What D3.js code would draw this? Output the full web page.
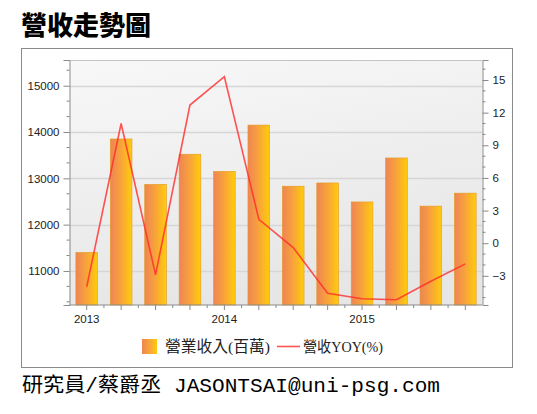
<!DOCTYPE html>
<html><head><meta charset="utf-8">
<script src="https://cdn.jsdelivr.net/npm/d3@7"></script>
<style>
html,body{margin:0;padding:0;background:#fff;}
svg{display:block;}
</style></head>
<body>
<script>
const categories = ["2013Q1","2013Q2","2013Q3","2013Q4","2014Q1","2014Q2","2014Q3","2014Q4","2015Q1","2015Q2","2015Q3","2015Q4"];
const revenue = [11400,13850,12870,13520,13150,14150,12830,12900,12490,13440,12400,12680];
const yoy = [-4.0,11.0,-2.9,12.7,15.3,2.2,-0.4,-4.6,-5.1,-5.2,-3.5,-1.9];
const xLabels = {"2013Q1":"2013","2014Q1":"2014","2015Q1":"2015"};
const leftTicks = [11000,12000,13000,14000,15000];
const rightTicks = [-3,0,3,6,9,12,15];
const title = "營收走勢圖";
const legendBar = "營業收入(百萬)";
const legendLine = "營收YOY(%)";
const footer = "研究員/蔡爵丞 JASONTSAI@uni-psg.com";

const W = 537, H = 414;
const svg = d3.select("body").append("svg").attr("width", W).attr("height", H);
const defs = svg.append("defs");
const bg = defs.append("linearGradient").attr("id","bg").attr("x1","0").attr("y1","0").attr("x2","0.3").attr("y2","1");
bg.append("stop").attr("offset","0").attr("stop-color","#f8f8f8");
bg.append("stop").attr("offset","1").attr("stop-color","#e6e6e6");
const bar = defs.append("linearGradient").attr("id","bar").attr("x1","0").attr("y1","0").attr("x2","1").attr("y2","0");
bar.append("stop").attr("offset","0").attr("stop-color","#ee8455");
bar.append("stop").attr("offset","0.5").attr("stop-color","#f8a43a");
bar.append("stop").attr("offset","1").attr("stop-color","#ffcc0a");

// title
svg.append("text").attr("x", 21).attr("y", 35).text(title)
  .attr("font-family","'Noto Sans CJK TC'").attr("font-weight","900").attr("font-size",26).attr("fill","#000");

// outer frame
svg.append("rect").attr("x",21.5).attr("y",48.5).attr("width",491).attr("height",319)
  .attr("fill","#fff").attr("stroke","#8a8a8a");

const m = {l:69.5, r:482.5, t:60, b:305};
const x = d3.scaleBand().domain(categories).range([m.l, m.r]).paddingInner(0.37).paddingOuter(0.185);
const yL = d3.scaleLinear().domain([10265, 15555]).range([m.b, m.t]);
const yR = d3.scaleLinear().domain([-5.68, 16.84]).range([m.b, m.t]);

// plot background
svg.append("rect").attr("x",m.l).attr("y",m.t).attr("width",m.r-m.l).attr("height",m.b-m.t).attr("fill","url(#bg)");
svg.append("line").attr("x1",m.l).attr("x2",m.r).attr("y1",m.t+0.5).attr("y2",m.t+0.5).attr("stroke","#c4c4c4");

// grid
svg.append("g").selectAll("line").data(leftTicks).join("line")
  .attr("x1",m.l).attr("x2",m.r).attr("y1",d=>Math.round(yL(d))+0.5).attr("y2",d=>Math.round(yL(d))+0.5)
  .attr("stroke","#d6d6d6").attr("stroke-width",1.3);

// bars
svg.append("g").selectAll("rect").data(categories).join("rect")
  .attr("x", d=>x(d)).attr("width", x.bandwidth())
  .attr("y", (d,i)=>yL(revenue[i])).attr("height",(d,i)=>m.b - yL(revenue[i]))
  .attr("fill","url(#bar)").attr("stroke","#e59a20").attr("stroke-width",0.6);

// line
const line = d3.line().x((d,i)=>x(categories[i])+x.bandwidth()/2).y(d=>yR(d));
svg.append("path").datum(yoy).attr("d",line).attr("fill","none")
  .attr("stroke","#ff2a2a").attr("stroke-opacity",0.8).attr("stroke-width",1.6);

// left axis
const axL = svg.append("g").attr("transform",`translate(${m.l},0)`)
  .call(d3.axisLeft(yL).tickValues(leftTicks).tickSize(6).tickPadding(4).tickFormat(d3.format("d")));
const minorL = d3.range(10000+1000/3, 15555, 1000/3).filter(v=>v>=10265 && leftTicks.indexOf(Math.round(v))<0);
axL.append("g").selectAll("line").data(minorL).join("line")
  .attr("x1",-3).attr("x2",0).attr("y1",d=>yL(d)).attr("y2",d=>yL(d)).attr("stroke","#888");
// right axis
const axR = svg.append("g").attr("transform",`translate(${m.r},0)`)
  .call(d3.axisRight(yR).tickValues(rightTicks).tickSize(6).tickPadding(4).tickFormat(d3.format("d")));
const minorR = d3.range(-5, 17, 1).filter(v=>rightTicks.indexOf(v)<0);
axR.append("g").selectAll("line").data(minorR).join("line")
  .attr("x1",0).attr("x2",3).attr("y1",d=>yR(d)).attr("y2",d=>yR(d)).attr("stroke","#888");
// bottom axis
const axB = svg.append("g").attr("transform",`translate(0,${m.b})`)
  .call(d3.axisBottom(x).tickSize(5).tickPadding(5).tickFormat(d=>xLabels[d]||""));
const bounds = categories.slice(1).map(c=>x(c) - x.step()*x.paddingInner()/2);
axB.append("g").selectAll("line").data(bounds).join("line")
  .attr("x1",d=>d).attr("x2",d=>d).attr("y1",0).attr("y2",3).attr("stroke","#888");

[axL,axR,axB].forEach(a=>{
  a.selectAll(".domain").attr("stroke","#8c8c8c");
  a.selectAll(".tick line").attr("stroke","#888");
  a.selectAll("text").attr("font-family","'Liberation Sans',Arial,sans-serif").attr("font-size",11.5).attr("fill","#222");
});
axB.select(".domain").attr("d",`M${m.l},0H${m.r}`);

// legend
const lg = svg.append("g");
lg.append("rect").attr("x",142).attr("y",339).attr("width",15).attr("height",15).attr("fill","url(#bar)");
lg.append("text").attr("x",165).attr("y",352).text(legendBar)
  .attr("font-family","'Liberation Serif','Noto Sans CJK TC'").attr("font-size",15.5).attr("fill","#222")
  .attr("textLength",105).attr("lengthAdjust","spacingAndGlyphs");
lg.append("line").attr("x1",277).attr("x2",300).attr("y1",346.5).attr("y2",346.5).attr("stroke","#ff2a2a").attr("stroke-opacity",0.8).attr("stroke-width",1.6);
lg.append("text").attr("x",303).attr("y",352).text(legendLine)
  .attr("font-family","'Liberation Serif','Noto Sans CJK TC'").attr("font-size",15).attr("fill","#222")
  .attr("textLength",80).attr("lengthAdjust","spacingAndGlyphs");

// footer
svg.append("text").attr("x",22).attr("y",392).text(footer)
  .attr("font-family","'Liberation Mono','Noto Sans CJK TC',monospace").attr("font-size",20.5).attr("fill","#000")
  .attr("textLength",418).attr("lengthAdjust","spacingAndGlyphs");
</script>
</body></html>
